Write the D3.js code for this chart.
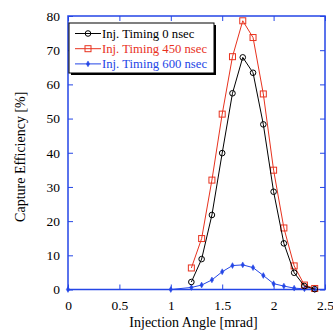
<!DOCTYPE html>
<html>
<head>
<meta charset="utf-8">
<script src="https://cdn.jsdelivr.net/npm/d3@7"></script>
<style>
  body { margin: 0; background: #fff; }
  text { font-family: "Liberation Serif", "Times New Roman", serif; }
</style>
</head>
<body>
<svg id="chart" width="333" height="333"></svg>
<script>
// data
const anglesMain = [1.2, 1.3, 1.4, 1.5, 1.6, 1.7, 1.8, 1.9, 2.0, 2.1, 2.2, 2.3, 2.4];
const anglesLate = [0, 1, 1.2, 1.3, 1.4, 1.5, 1.6, 1.7, 1.8, 1.9, 2.0, 2.1, 2.2, 2.3, 2.4];
const eff0 = [2.2, 8.9, 21.8, 39.9, 57.4, 67.9, 63.4, 48.3, 28.6, 13.5, 4.9, 1.0, 0.1];
const eff450 = [6.3, 14.9, 32.0, 51.3, 68.1, 78.6, 73.7, 57.2, 34.9, 18.0, 6.9, 1.3, 0.3];
const eff600 = [0, 0, 0.6, 1.3, 2.8, 5.2, 7.0, 7.2, 6.4, 4.1, 1.7, 1.0, 0.4, 0.2, 0];
const seriesNames = ['Inj. Timing 0 nsec', 'Inj. Timing 450 nsec', 'Inj. Timing 600 nsec'];
const xTicks = [0, 0.5, 1, 1.5, 2, 2.5];
const yTicks = [0, 10, 20, 30, 40, 50, 60, 70, 80];

const colors = ['#000000', '#e8321e', '#2446e6'];
const axisBlue = '#2446e6';

const margin = { top: 16, right: 8, bottom: 43.5, left: 68 };
const svg = d3.select('#chart');
const width = 333 - margin.left - margin.right;
const height = 333 - margin.top - margin.bottom;

const g = svg.append('g')
  .attr('transform', `translate(${margin.left},${margin.top})`);

const x = d3.scaleLinear().domain([0, 2.5]).range([0, width]);
const y = d3.scaleLinear().domain([0, 80]).range([height, 0]);

// frame ticks (inward) on all four sides
const tick = 5;
const styleAxis = (sel, labels) => {
  sel.select('.domain').remove();
  sel.selectAll('.tick line').attr('stroke', axisBlue).attr('stroke-width', 1);
  sel.selectAll('.tick text')
    .attr('fill', '#000')
    .style('font-size', '13.5px')
    .style('font-family', '"Liberation Serif", serif');
  if (!labels) sel.selectAll('.tick text').remove();
};

g.append('g')
  .attr('transform', `translate(0,${height})`)
  .call(d3.axisBottom(x).tickValues(xTicks).tickSize(-tick).tickPadding(11)
    .tickFormat(d => d))
  .call(s => styleAxis(s, true));

g.append('g')
  .call(d3.axisTop(x).tickValues(xTicks).tickSize(-tick))
  .call(s => styleAxis(s, false));

g.append('g')
  .call(d3.axisLeft(y).tickValues(yTicks).tickSize(-tick).tickPadding(8))
  .call(s => styleAxis(s, true));

g.append('g')
  .attr('transform', `translate(${width},0)`)
  .call(d3.axisRight(y).tickValues(yTicks).tickSize(-tick))
  .call(s => styleAxis(s, false));

g.append('rect')
  .attr('width', width)
  .attr('height', height)
  .attr('fill', 'none')
  .attr('stroke', axisBlue)
  .attr('stroke-width', 1.5);

// axis titles
svg.append('text')
  .attr('x', margin.left + width / 2 - 3)
  .attr('y', 327)
  .attr('text-anchor', 'middle')
  .style('font-size', '14px')
  .text('Injection Angle [mrad]');

svg.append('text')
  .attr('transform', `translate(25,${margin.top + height / 2 + 4}) rotate(-90)`)
  .attr('text-anchor', 'middle')
  .style('font-size', '14px')
  .text('Capture Efficiency [%]');

// series
const series = [
  { xs: anglesMain, ys: eff0, color: colors[0], shape: 'circle' },
  { xs: anglesMain, ys: eff450, color: colors[1], shape: 'square' },
  { xs: anglesLate, ys: eff600, color: colors[2], shape: 'diamond' }
];

const line = d3.line().x(d => x(d[0])).y(d => y(d[1]));

const drawMarker = (sel, shape, color) => {
  if (shape === 'circle') {
    sel.append('circle').attr('r', 2.8)
      .attr('fill', 'none').attr('stroke', color).attr('stroke-width', 1);
  } else if (shape === 'square') {
    sel.append('rect').attr('x', -3).attr('y', -3).attr('width', 6).attr('height', 6)
      .attr('fill', 'none').attr('stroke', color).attr('stroke-width', 1);
  } else {
    sel.append('path').attr('d', d3.symbol(d3.symbolDiamond, 10)())
      .attr('fill', color).attr('stroke', color).attr('stroke-width', 0.5);
  }
};

series.slice().reverse().forEach(s => {
  const pts = s.xs.map((v, i) => [v, s.ys[i]]);
  g.append('path')
    .datum(pts)
    .attr('d', line)
    .attr('fill', 'none')
    .attr('stroke', s.color)
    .attr('stroke-width', 1);
  g.selectAll(null)
    .data(pts)
    .enter()
    .append('g')
    .attr('transform', d => `translate(${x(d[0])},${y(d[1])})`)
    .each(function() { drawMarker(d3.select(this), s.shape, s.color); });
});

// legend with drop shadow
const lg = svg.append('g').attr('transform', 'translate(69,23)');
lg.append('rect').attr('x', 2).attr('y', 2).attr('width', 145).attr('height', 50).attr('fill', '#000');
lg.append('rect').attr('width', 145).attr('height', 50)
  .attr('fill', '#fff').attr('stroke', '#000').attr('stroke-width', 1);

series.forEach((s, i) => {
  const row = lg.append('g').attr('transform', `translate(0,${10.5 + i * 15.2})`);
  row.append('line').attr('x1', 6).attr('x2', 32).attr('stroke', s.color).attr('stroke-width', 1);
  row.append('g').attr('transform', 'translate(19,0)')
    .call(sel => drawMarker(sel, s.shape, s.color));
  row.append('text')
    .attr('x', 33)
    .attr('y', 4.5)
    .attr('fill', s.color)
    .style('font-size', '12.7px')
    .text(seriesNames[i]);
});
</script>
</body>
</html>
